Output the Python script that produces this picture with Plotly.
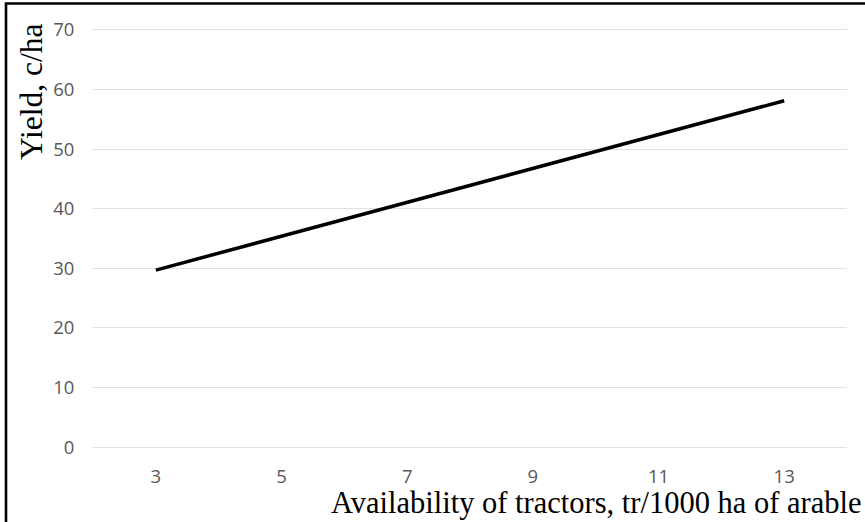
import plotly.graph_objects as go

tractors = [3, 5, 7, 9, 11, 13]
yield_cha = [29.7, 35.4, 41.1, 46.8, 52.5, 58.1]
x_ticks = [3, 5, 7, 9, 11, 13]
y_ticks = [0, 10, 20, 30, 40, 50, 60, 70]

W, H = 865, 522
L, R, T, B = 93, 18, 28, 73
pw, ph = W - L - R, H - T - B

def px_x(px):
    return (px - L) / pw

def px_y(py):
    return (H - B - py) / ph

fig = go.Figure()
fig.add_trace(go.Scatter(
    x=tractors, y=yield_cha, mode="lines",
    line=dict(color="black", width=3.5),
    showlegend=False, hoverinfo="skip",
))

tick_font = dict(family="Open Sans, sans-serif", size=18.5, color="#595959")

fig.update_layout(
    width=W, height=H,
    margin=dict(l=L, r=R, t=T, b=B),
    paper_bgcolor="white", plot_bgcolor="white",
    xaxis=dict(range=[2, 14], tickvals=x_ticks, ticktext=[str(v) for v in x_ticks],
               showgrid=False, zeroline=False, showline=False,
               tickfont=tick_font, ticks="outside", ticklen=11,
               tickcolor="rgba(0,0,0,0)", fixedrange=True),
    yaxis=dict(range=[-0.3, 70.3], tickvals=y_ticks, showgrid=True, gridcolor="#e0e0e0",
               gridwidth=1.3, zeroline=False, showline=False,
               tickfont=tick_font, ticks="outside", ticklen=14, tickcolor="rgba(0,0,0,0)",
               fixedrange=True),
    shapes=[
        dict(type="rect", xref="paper", yref="paper",
             x0=px_x(6), x1=px_x(920), y0=px_y(600), y1=px_y(3.5),
             line=dict(color="black", width=2.6), fillcolor="rgba(0,0,0,0)", layer="above"),
    ],
    annotations=[
        dict(text="Yield, c/ha", xref="paper", yref="paper",
             x=px_x(32), y=px_y(92), textangle=-90, showarrow=False,
             font=dict(family="Liberation Serif, Times New Roman, serif", size=31.5, color="black"),
             xanchor="center", yanchor="middle"),
        dict(text="Availability of tractors, tr/1000 ha of arable", xref="paper", yref="paper",
             x=px_x(863), y=px_y(503), showarrow=False,
             font=dict(family="Liberation Serif, Times New Roman, serif", size=30.5, color="black"),
             xanchor="right", yanchor="middle"),
    ],
)

fig.write_html("out.html", config={"displayModeBar": False},
               post_script="document.body.style.margin='0';document.body.style.overflow='hidden';")
